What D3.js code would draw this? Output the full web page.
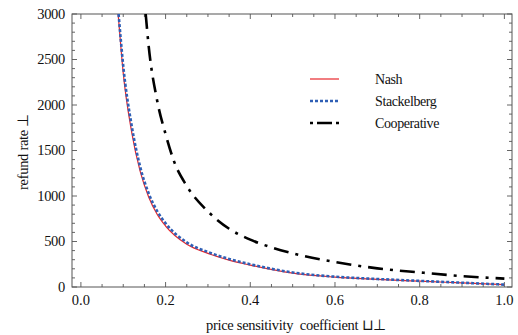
<!DOCTYPE html>
<html>
<head>
<meta charset="utf-8">
<script src="https://cdn.jsdelivr.net/npm/d3@7"></script>
<style>
  html, body { margin: 0; padding: 0; background: #fff; }
</style>
</head>
<body>
<svg id="chart" width="518" height="335"></svg>
<script>
// price sensitivity coefficient (x) and refund rate (y) for the three game settings
const nashX = [0.088, 0.10, 0.12, 0.14, 0.16, 0.18, 0.20, 0.25, 0.30, 0.35, 0.40, 0.50, 0.60, 0.70, 0.80, 0.90, 1.00];
const nashY = [3000, 2350, 1700, 1270, 990, 800, 670, 470, 370, 295, 240, 152, 108, 84, 64, 45, 25];

const stackX = [0.089, 0.10, 0.12, 0.14, 0.16, 0.18, 0.20, 0.25, 0.30, 0.35, 0.40, 0.50, 0.60, 0.70, 0.80, 0.90, 1.00];
const stackY = [3000, 2430, 1770, 1320, 1030, 835, 700, 490, 385, 308, 250, 160, 113, 88, 67, 47, 26];

const coopX = [0.153, 0.16, 0.18, 0.20, 0.22, 0.25, 0.30, 0.35, 0.40, 0.45, 0.50, 0.60, 0.70, 0.80, 0.90, 1.00];
const coopY = [3000, 2650, 2050, 1680, 1380, 1110, 830, 640, 520, 435, 370, 275, 205, 160, 120, 92];

const xTicks = [0, 0.2, 0.4, 0.6, 0.8, 1.0];
const yTicks = [0, 500, 1000, 1500, 2000, 2500, 3000];
const xMinor = d3.range(0, 1.0001, 0.05);
const yMinor = d3.range(0, 3000.1, 100);

const legendNames = ["Nash", "Stackelberg", "Cooperative"];

const svg = d3.select("#chart");
const serif = "'Liberation Serif', 'Times New Roman', serif";
const margin = { left: 72, top: 14, right: 6, bottom: 48 };
const W = 518 - margin.left - margin.right;
const H = 335 - margin.top - margin.bottom;

const x = d3.scaleLinear().domain([-0.021, 1.018]).range([0, W]);
const y = d3.scaleLinear().domain([0, 3000]).range([H, 0]);

const g = svg.append("g").attr("transform", `translate(${margin.left},${margin.top})`);

g.append("clipPath").attr("id", "plotclip")
  .append("rect").attr("width", W).attr("height", H);

// frame ticks (inward), on all four sides
const frameColor = "#555";
function ticksOn(side) {
  const t = g.append("g");
  const isX = side === "bottom" || side === "top";
  const minorVals = isX ? xMinor : yMinor;
  const majorVals = isX ? xTicks : yTicks;
  const isMajor = v => majorVals.some(m => Math.abs(m - v) < 1e-6);
  minorVals.forEach(v => {
    const len = isMajor(v) ? 5 : 3;
    let x1, y1, x2, y2;
    if (side === "bottom") { x1 = x2 = x(v); y1 = H; y2 = H - len; }
    if (side === "top") { x1 = x2 = x(v); y1 = 0; y2 = len; }
    if (side === "left") { y1 = y2 = y(v); x1 = 0; x2 = len; }
    if (side === "right") { y1 = y2 = y(v); x1 = W; x2 = W - len; }
    t.append("line").attr("x1", x1).attr("y1", y1).attr("x2", x2).attr("y2", y2)
      .attr("stroke", frameColor).attr("stroke-width", 0.9);
  });
}
["bottom", "top", "left", "right"].forEach(ticksOn);

g.append("rect").attr("width", W).attr("height", H)
  .attr("fill", "none").attr("stroke", frameColor).attr("stroke-width", 1);

// tick labels
g.append("g").selectAll("text").data(xTicks).join("text")
  .attr("x", d => x(d)).attr("y", H + 18)
  .attr("text-anchor", "middle").attr("font-size", 14.5)
  .attr("font-family", serif).attr("fill", "#111")
  .text(d => d3.format(".1f")(d));

g.append("g").selectAll("text").data(yTicks).join("text")
  .attr("x", -7).attr("y", d => y(d) + 4.5)
  .attr("text-anchor", "end").attr("font-size", 14.5)
  .attr("font-family", serif).attr("fill", "#111")
  .attr("letter-spacing", -0.3)
  .text(d => d3.format("d")(d));

// axis titles
svg.append("text")
  .attr("transform", `translate(28,152) rotate(-90)`)
  .attr("text-anchor", "middle").attr("font-size", 14.5)
  .attr("font-family", serif).attr("fill", "#111")
  .attr("letter-spacing", -0.3)
  .text("refund rate \u22A5");

svg.append("text")
  .attr("x", 296).attr("y", 330)
  .attr("text-anchor", "middle").attr("font-size", 14.5)
  .attr("font-family", serif).attr("fill", "#111")
  .attr("letter-spacing", -0.3)
  .attr("xml:space", "preserve")
  .text("price sensitivity  coefficient \u2294\u22A5");

// curves
const line = d3.line().x(d => x(d[0])).y(d => y(d[1])).curve(d3.curveMonotoneX);
const plot = g.append("g").attr("clip-path", "url(#plotclip)");

const styles = [
  { color: "#e8262b", width: 1.2, dash: null },
  { color: "#2f5fb5", width: 2.6, dash: "3,2" },
  { color: "#000", width: 2.6, dash: "15,7,3,7" }
];
const series = [
  d3.zip(nashX, nashY),
  d3.zip(stackX, stackY),
  d3.zip(coopX, coopY)
];

// draw cooperative first, then Nash, then Stackelberg on top
[2, 0, 1].forEach(i => {
  plot.append("path").datum(series[i])
    .attr("d", line)
    .attr("fill", "none")
    .attr("stroke", styles[i].color)
    .attr("stroke-width", styles[i].width)
    .attr("stroke-dasharray", styles[i].dash);
});

// legend
const leg = svg.append("g");
legendNames.forEach((name, i) => {
  const yy = 79 + i * 22;
  leg.append("line")
    .attr("x1", 310).attr("x2", 339).attr("y1", yy).attr("y2", yy)
    .attr("stroke", styles[i].color).attr("stroke-width", styles[i].width)
    .attr("stroke-dasharray", i === 2 ? "3,4,15,4" : styles[i].dash);
  leg.append("text")
    .attr("x", 375).attr("y", yy + 5)
    .attr("font-size", 14)
    .attr("font-family", serif).attr("fill", "#111")
    .attr("letter-spacing", -0.4)
    .text(name);
});
</script>
</body>
</html>
